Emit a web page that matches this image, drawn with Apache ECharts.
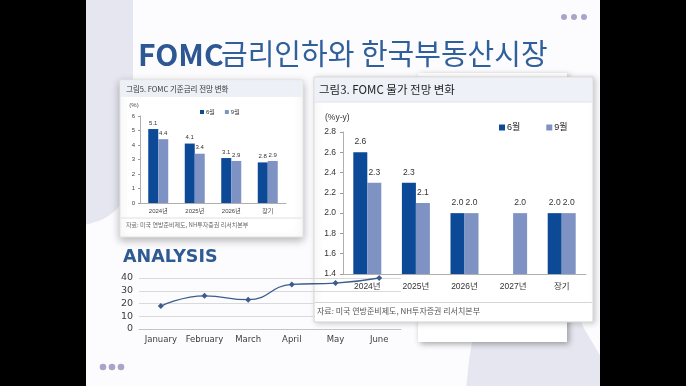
<!DOCTYPE html>
<html><head><meta charset="utf-8">
<script src="https://cdn.jsdelivr.net/npm/echarts@6/dist/echarts.min.js"></script>
<style>html,body{margin:0;padding:0;background:#000}#c{width:686px;height:386px}</style>
</head><body><div id="c"></div>
<script>
// ---- data ----
const rateCats = ['2024년', '2025년', '2026년', '장기'];
const rateJune = [5.1, 4.1, 3.1, 2.8];
const rateSept = [4.4, 3.4, 2.9, 2.9];
const cpiCats = ['2024년', '2025년', '2026년', '2027년', '장기'];
const cpiJune = [2.6, 2.3, 2.0, null, 2.0];
const cpiSept = [2.3, 2.1, 2.0, 2.0, 2.0];
const months = ['January', 'February', 'March', 'April', 'May', 'June'];
const analysisValues = [18, 26, 23, 35, 36, 40];
const seriesNames = ['6월', '9월'];
const titleLatin = 'FOMC';
const titleKorean = '금리인하와 한국부동산시장';

const C6 = '#0c4a97', C9 = '#7f92c4';
const KR = "'Liberation Sans','Noto Sans CJK KR',sans-serif";
const chart = echarts.init(document.getElementById('c'));

function dot(x, y, r) { return { type: 'circle', z: -8, shape: { cx: x, cy: y, r: r }, style: { fill: '#a9a4ca' } }; }
function txt(x, y, t, font, fill, z, align) {
  return { type: 'text', z: z === undefined ? -8 : z, x: x, y: y,
    style: { text: t, font: font, fill: fill, textAlign: align || 'left', textVerticalAlign: 'middle' } };
}

const graphic = [
  { type: 'rect', z: -20, shape: { x: 86, y: 0, width: 514, height: 386 }, style: { fill: '#fcfcfe' } },
  { type: 'rect', z: -19, shape: { x: 60, y: -60, width: 73, height: 285, r: [0, 0, 55, 0] }, style: { fill: '#e6e6f0' } },
  { type: 'polygon', z: -19, shape: { points: [[478, 300], [570, 300], [585, 330], [598, 352], [610, 372], [610, 390], [466, 390], [469, 360], [474, 330]] }, style: { fill: '#e6e6f0' } },
  // title
  txt(138, 55, titleLatin, "bold 30px 'Noto Sans CJK KR'", '#2d5893', -8),
  txt(221, 54, titleKorean, "normal 29px 'Noto Sans CJK KR'", '#30609c', -8),
  dot(564, 17, 3), dot(574, 17, 3), dot(584, 17, 3),
  dot(103, 367, 3.3), dot(112, 367, 3.3), dot(121, 367, 3.3),
  // left card
  { type: 'rect', z: -12, shape: { x: 120, y: 80, width: 183, height: 157 }, style: { fill: '#fff', stroke: '#e2e2e2', shadowBlur: 8, shadowColor: 'rgba(0,0,0,0.28)', shadowOffsetY: 3 } },
  { type: 'rect', z: -11, shape: { x: 121, y: 81, width: 181, height: 16 }, style: { fill: '#edf1f7' } },
  txt(126, 89, '그림5. FOMC 기준금리 전망 변화', "7.5px 'Noto Sans CJK KR'", '#333', -9),
  { type: 'line', z: -9, shape: { x1: 121, y1: 218, x2: 302, y2: 218 }, style: { stroke: '#e0e0e0', lineWidth: 1 } },
  txt(126, 225, '자료: 미국 연방준비제도, NH투자증권 리서치본부', "6px 'Noto Sans CJK KR'", '#666', -9),
  txt(134, 105, '(%)', "6px 'Liberation Sans'", '#444', -9, 'center'),
  // ANALYSIS
  txt(123, 257, 'ANALYSIS', "bold 17.5px 'DejaVu Sans'", '#2f5a92', -8),
  // back card
  { type: 'rect', z: -13, shape: { x: 418, y: 73, width: 149, height: 269 }, style: { fill: '#fff', shadowBlur: 6, shadowColor: 'rgba(0,0,0,0.35)', shadowOffsetX: 2, shadowOffsetY: 2 } },
  // right card
  { type: 'rect', z: -12, shape: { x: 314, y: 77, width: 279, height: 245 }, style: { fill: '#fff', stroke: '#d6d6d6', shadowBlur: 6, shadowColor: 'rgba(0,0,0,0.2)', shadowOffsetX: 2, shadowOffsetY: 1 } },
  { type: 'rect', z: -11, shape: { x: 315, y: 78, width: 277, height: 24 }, style: { fill: '#eef2f8' } },
  { type: 'line', z: -11, shape: { x1: 315, y1: 102, x2: 592, y2: 102 }, style: { stroke: '#dfe4ec', lineWidth: 1 } },
  txt(319, 90, '그림3. FOMC 물가 전망 변화', "11.5px 'Noto Sans CJK KR'", '#222', -9),
  txt(325, 118, '(%y-y)', "8.5px 'Liberation Sans'", '#333', -9),
  { type: 'rect', z: 1, shape: { x: 315, y: 303, width: 277, height: 18 }, style: { fill: '#fff' } },
  { type: 'line', z: 2, shape: { x1: 315, y1: 302.5, x2: 592, y2: 302.5 }, style: { stroke: '#d4d4d4', lineWidth: 1 } },
  txt(317, 311, '자료: 미국 연방준비제도, NH투자증권 리서치본부', "8px 'Noto Sans CJK KR'", '#555', 2),
  // black sides
  { type: 'rect', z: 100, shape: { x: 0, y: 0, width: 86, height: 386 }, style: { fill: '#000' } },
  { type: 'rect', z: 100, shape: { x: 600, y: 0, width: 86, height: 386 }, style: { fill: '#000' } }
];

const axisGray = '#9a9a9a';
const option = {
  animation: false,
  backgroundColor: '#000',
  graphic: graphic,
  legend: [
    { data: seriesNames, left: 200, top: 109, padding: 0, icon: 'rect', itemWidth: 4, itemHeight: 4, itemGap: 10,
      textStyle: { fontSize: 6, color: '#333', fontFamily: KR, padding: [0, 0, 0, -3] } },
    { data: seriesNames, left: 499, top: 123, padding: 0, icon: 'rect', itemWidth: 6, itemHeight: 6, itemGap: 26,
      textStyle: { fontSize: 9, color: '#222', fontFamily: KR, padding: [0, 0, 0, -3] } }
  ],
  grid: [
    { left: 140, top: 116, width: 146, height: 87 },
    { left: 343, top: 132, width: 243, height: 142 },
    { left: 139, top: 278, width: 262, height: 51 }
  ],
  xAxis: [
    { gridIndex: 0, type: 'category', data: rateCats,
      axisLine: { lineStyle: { color: axisGray, width: 0.8 } }, axisTick: { length: 2, lineStyle: { color: axisGray } },
      axisLabel: { interval: 0, fontSize: 6, color: '#444', margin: 5, fontFamily: KR } },
    { gridIndex: 1, type: 'category', data: cpiCats,
      axisLine: { lineStyle: { color: axisGray, width: 0.8 } }, axisTick: { length: 3, lineStyle: { color: axisGray } },
      axisLabel: { interval: 0, fontSize: 8.5, color: '#333', margin: 8, fontFamily: KR } },
    { gridIndex: 2, type: 'category', data: months,
      axisLine: { lineStyle: { color: '#c4c4c4' } }, axisTick: { show: false },
      axisLabel: { interval: 0, fontSize: 8.5, color: '#3c3c3c', margin: 6, fontFamily: 'DejaVu Sans' } }
  ],
  yAxis: [
    { gridIndex: 0, type: 'value', min: 0, max: 6, interval: 1,
      axisLine: { show: true, lineStyle: { color: axisGray, width: 0.8 } }, axisTick: { show: true, length: 2, lineStyle: { color: axisGray } },
      splitLine: { show: false }, axisLabel: { fontSize: 6, color: '#444', margin: 5, fontFamily: KR } },
    { gridIndex: 1, type: 'value', min: 1.4, max: 2.8, interval: 0.2,
      axisLine: { show: true, lineStyle: { color: axisGray, width: 0.8 } }, axisTick: { show: true, length: 3, lineStyle: { color: axisGray } },
      splitLine: { show: false }, axisLabel: { fontSize: 8.5, color: '#333', margin: 7, fontFamily: KR, formatter: v => v.toFixed(1) } },
    { gridIndex: 2, type: 'value', min: 0, max: 40, interval: 10,
      axisLine: { show: false }, axisTick: { show: false },
      splitLine: { lineStyle: { color: '#dadada' } },
      axisLabel: { fontSize: 9.5, color: '#3c3c3c', margin: 6, fontFamily: 'DejaVu Sans' } }
  ],
  series: [
    { name: seriesNames[0], type: 'bar', xAxisIndex: 0, yAxisIndex: 0, data: rateJune, barWidth: 10, barGap: '0%',
      itemStyle: { color: C6 }, label: { show: true, position: 'top', distance: 3, fontSize: 6, color: '#333', fontFamily: KR, formatter: p => p.value.toFixed(1) } },
    { name: seriesNames[1], type: 'bar', xAxisIndex: 0, yAxisIndex: 0, data: rateSept, barWidth: 10, barGap: '0%',
      itemStyle: { color: C9 }, label: { show: true, position: 'top', distance: 3, fontSize: 6, color: '#333', fontFamily: KR, formatter: p => p.value.toFixed(1) } },
    { name: seriesNames[0], type: 'bar', xAxisIndex: 1, yAxisIndex: 1, data: cpiJune, barWidth: 14, barGap: '0%',
      itemStyle: { color: C6 }, label: { show: true, position: 'top', distance: 6, fontSize: 8.5, color: '#333', fontFamily: KR, formatter: p => p.value == null ? '' : p.value.toFixed(1) } },
    { name: seriesNames[1], type: 'bar', xAxisIndex: 1, yAxisIndex: 1, data: cpiSept, barWidth: 14, barGap: '0%',
      itemStyle: { color: C9 }, label: { show: true, position: 'top', distance: 6, fontSize: 8.5, color: '#333', fontFamily: KR, formatter: p => p.value.toFixed(1) } },
    { name: 'ANALYSIS', type: 'line', xAxisIndex: 2, yAxisIndex: 2, data: analysisValues, smooth: true,
      symbol: 'diamond', symbolSize: 6, lineStyle: { color: '#3b5d8e', width: 1.3 }, itemStyle: { color: '#3b5d8e' } }
  ]
};
chart.setOption(option);
</script></body></html>
